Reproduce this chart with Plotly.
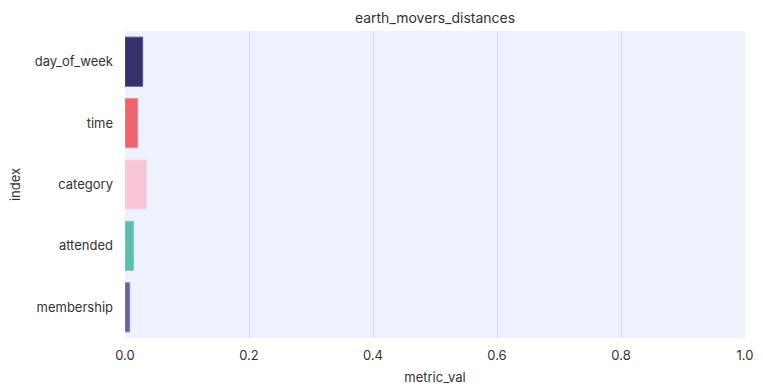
import plotly.graph_objects as go

categories = ["day_of_week", "time", "category", "attended", "membership"]
values = [0.0285, 0.0205, 0.035, 0.014, 0.0076]
colors = ["#35316b", "#eb6470", "#f8c6d6", "#60bcb3", "#6760a0"]
line_colors = ["#5a5688", "#ef8a93", "#fad6e1", "#86cdc5", "#8a84b6"]
x_ticks = [0.0, 0.2, 0.4, 0.6, 0.8, 1.0]
x_tick_labels = ["0.0", "0.2", "0.4", "0.6", "0.8", "1.0"]

fig = go.Figure()
fig.add_trace(go.Bar(
    x=values,
    y=categories,
    orientation="h",
    width=0.8,
    marker=dict(color=colors, line=dict(color=line_colors, width=1)),
    showlegend=False,
))

fig.update_layout(
    width=763,
    height=392,
    margin=dict(l=125, r=18, t=31, b=54),
    paper_bgcolor="white",
    plot_bgcolor="#eef2ff",
    font=dict(family="Inter", size=12, color="#333333"),
    title=dict(text="earth_movers_distances", x=0.5, xref="paper", xanchor="center",
               y=1, yref="paper", yanchor="bottom", pad=dict(b=8),
               font=dict(size=14, color="#333333")),
    bargap=0.2,
)
fig.update_xaxes(
    range=[0, 1],
    tickvals=x_ticks,
    ticktext=x_tick_labels,
    showgrid=True,
    gridcolor="#d8ddef",
    gridwidth=1,
    zeroline=False,
    showline=False,
    ticks="",
    automargin=False,
    ticklabelstandoff=8,
    title=dict(text="metric_val", standoff=10, font=dict(size=13)),
    tickfont=dict(size=13),
)
fig.update_yaxes(
    categoryorder="array",
    categoryarray=categories[::-1],
    showgrid=False,
    zeroline=False,
    showline=False,
    ticks="",
    automargin=False,
    ticklabelstandoff=11,
    title=dict(text="index", standoff=11, font=dict(size=13)),
    tickfont=dict(size=13),
)

fig.write_html("out.html")
